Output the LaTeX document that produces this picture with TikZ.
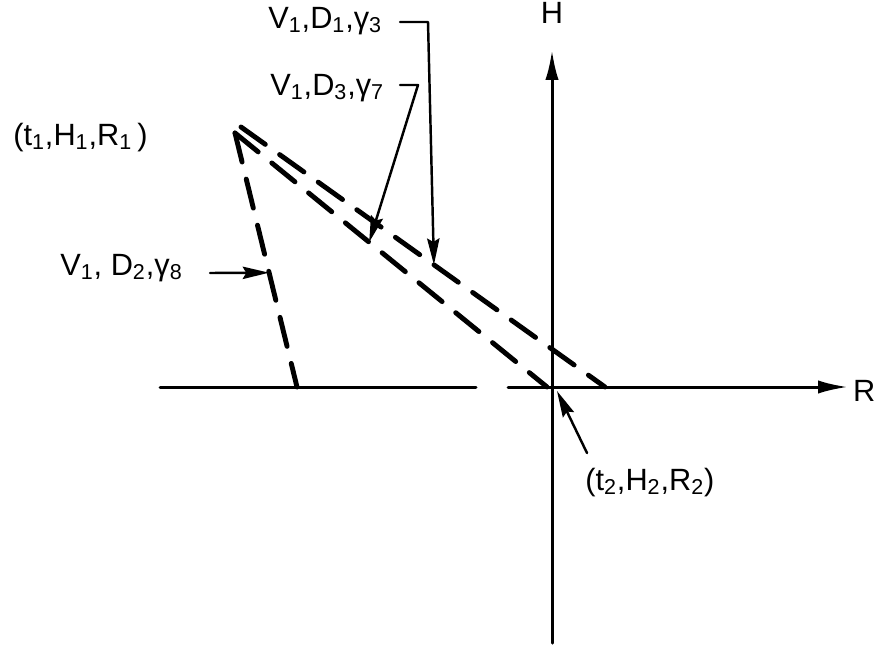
\documentclass[tikz,border=0pt]{standalone}
\usepackage{fontspec}
\setmainfont{Liberation Sans}
\usetikzlibrary{arrows.meta}
\newcommand{\lo}[1]{\textsubscript{#1}}
\begin{document}
\begin{tikzpicture}[x=0.02cm, y=-0.02cm, >={Latex[length=17pt,width=7.5pt]},
	font=\fontsize{17.5}{20}\selectfont, line join=round, line cap=round,
	axis/.style={line width=1.7pt},
	track/.style={line width=2.8pt, dash pattern=on 17pt off 10pt},
	ptr/.style={line width=1.4pt, -{Stealth[length=15pt,width=7pt,inset=2pt]}},
	lbl/.style={inner sep=0pt, anchor=base west}]
	\useasboundingbox (0,0) rectangle (875,646);
	\def\xo{552} \def\yo{387} % origin of the axes
	% axes
	\draw[axis] (160,\yo)--(476,\yo);
	\draw[axis,->] (508,\yo)--(848,\yo) node[lbl, anchor=west, xshift=2pt, yshift=-2pt] (Rlab) {R};
	\draw[axis,->] (\xo,643)--(\xo,50) node[lbl, anchor=south, yshift=14pt] (Hlab) {H};
	% end points of the three tracks
	\coordinate (apex) at (235,133);
	\coordinate (s3) at (241,127);
	\coordinate (e1) at (297,\yo);
	\coordinate (e2) at (547,\yo);
	\coordinate (e3) at (605,\yo);
	\draw[track] (apex)--(e1);
	\draw[track] (apex)--(e2);
	\draw[track] (s3)--(e3);
	\path (apex)--(e1) coordinate[pos=0.55] (hit1);
	\path (apex)--(e2) coordinate[pos=0.43] (hit2);
	\path (s3)--(e3) coordinate[pos=0.53] (hit3);
	% labels
	\node[lbl] (P1) at (13,145) {(t\lo{1},H\lo{1},R\lo{1}\,)};
	\node[lbl] (L3) at (268,28) {V\lo{1},D\lo{1},γ\lo{3}};
	\node[lbl] (L7) at (270,95) {V\lo{1},D\lo{3},γ\lo{7}};
	\node[lbl] (L8) at (60,275) {V\lo{1}, D\lo{2},γ\lo{8}};
	\node[lbl] (P2) at (585,490) {(t\lo{2},H\lo{2},R\lo{2})};
	% pointers
	\coordinate (b3) at (400,22);
	\coordinate (b7) at (400,85);
	\coordinate (b8) at (210,273);
	\coordinate (b2) at (587,453);
	\draw[ptr] (b3)--(428,22)--(hit3);
	\draw[ptr] (b7)--(418,85)--(hit2);
	\draw[ptr] (b8)--(hit1);
	\draw[ptr] (b2)--(\xo+5,\yo+4);
\end{tikzpicture}
\end{document}
